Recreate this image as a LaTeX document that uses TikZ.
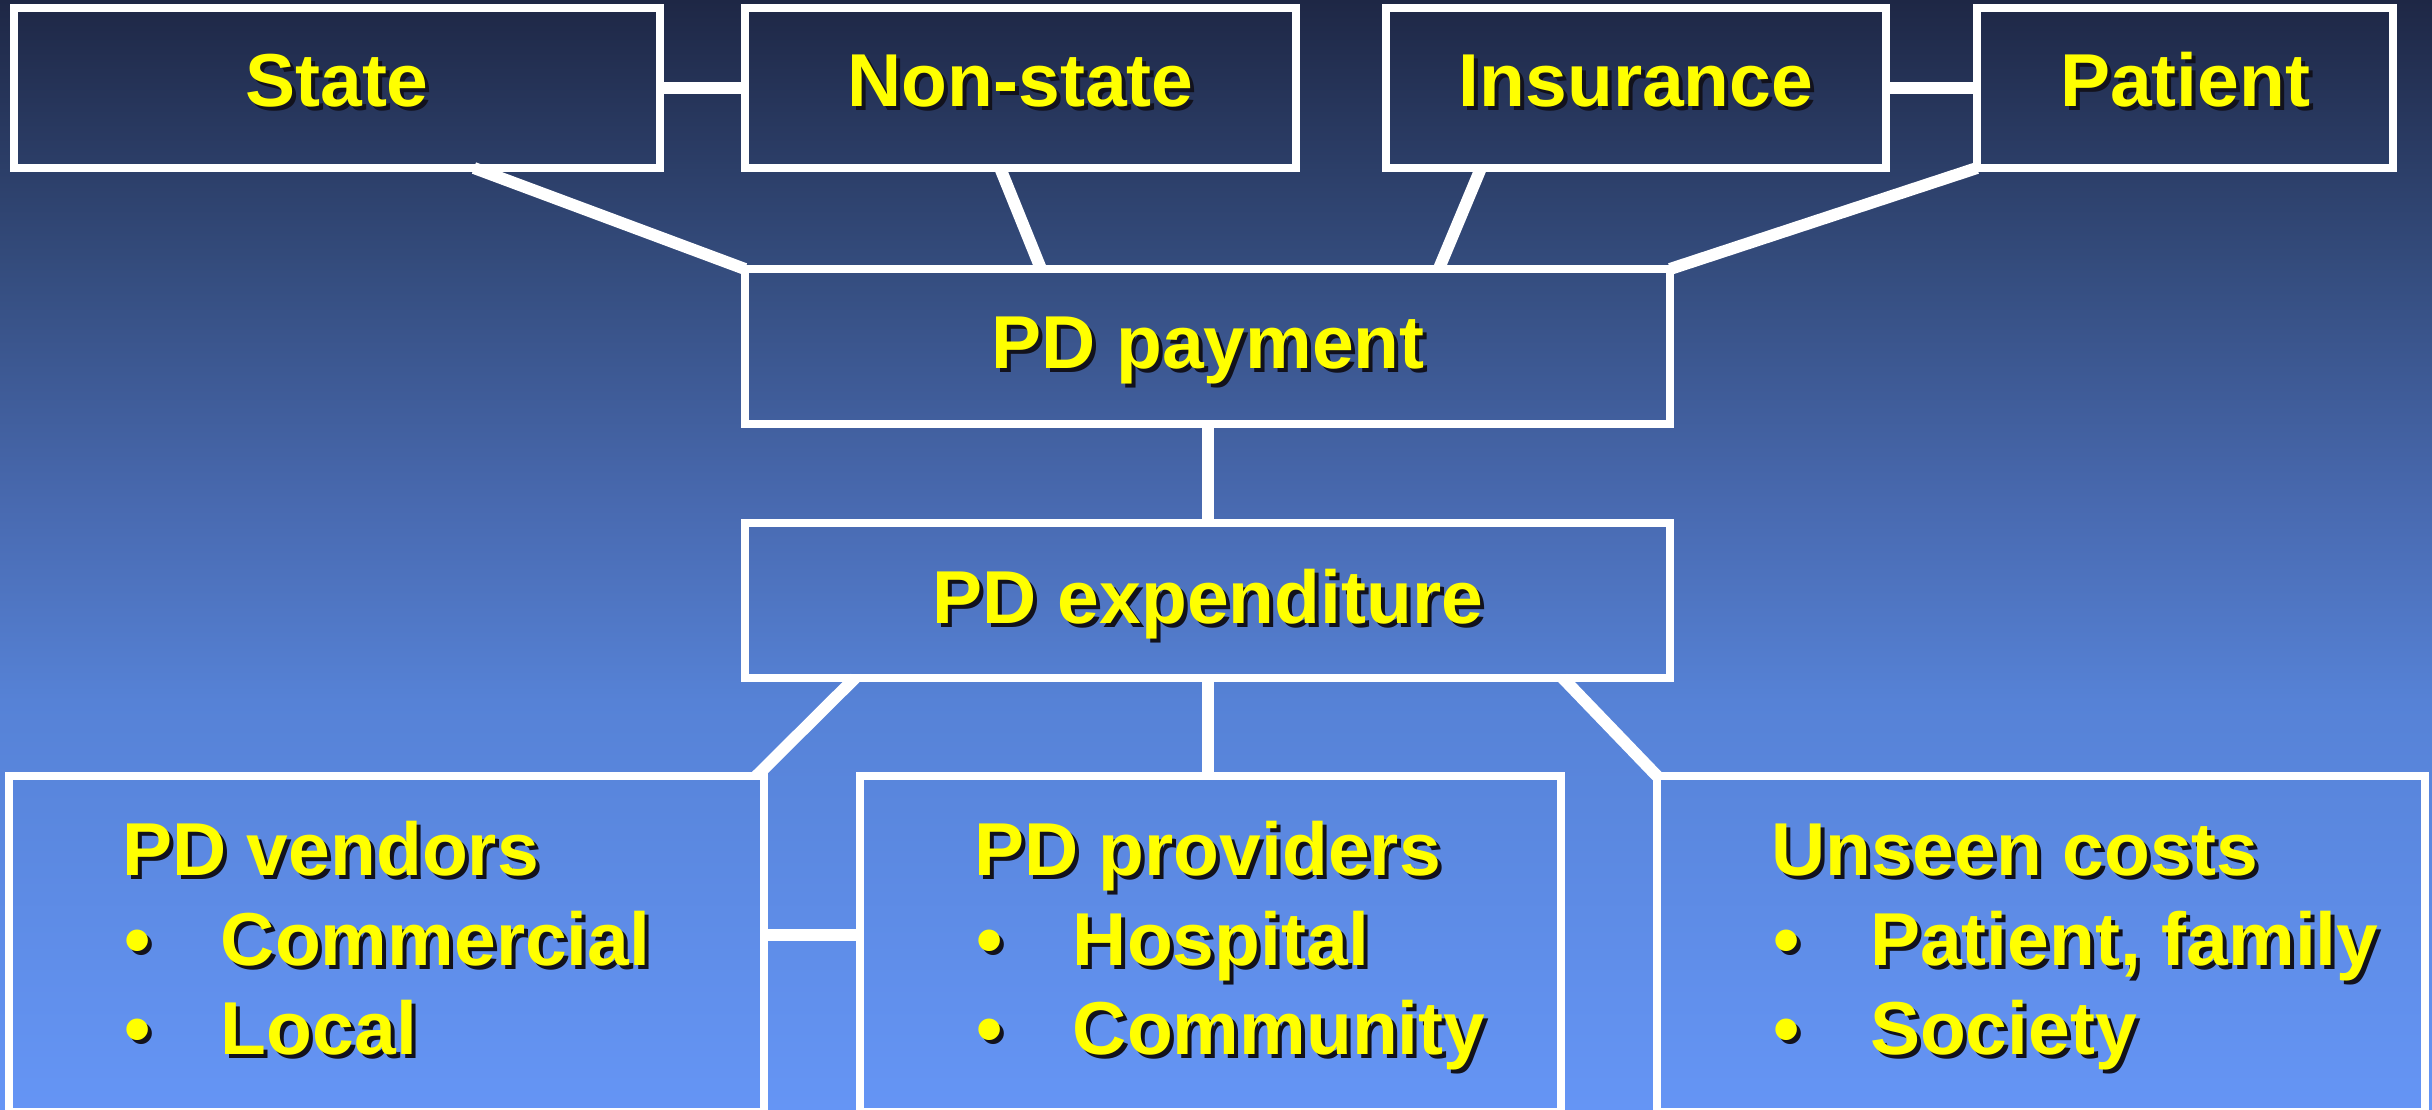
\documentclass[tikz,border=0pt]{standalone}
\usepackage{fontspec}
\setmainfont{Liberation Sans}
\usetikzlibrary{calc}

% background gradient stops, top to bottom
\definecolor{bgA}{RGB}{30,39,69}
\definecolor{bgB}{RGB}{52,76,125}
\definecolor{bgC}{RGB}{72,105,175}
\definecolor{bgD}{RGB}{86,130,214}
\definecolor{bgE}{RGB}{101,149,245}
\definecolor{txtyellow}{RGB}{255,255,0}
\definecolor{txtshadow}{RGB}{18,18,28}

% yellow text with a dark drop shadow
\newcommand{\shadowed}[1]{\makebox[0pt][l]{\hspace{4pt}\raisebox{-4pt}{\textcolor{txtshadow}{#1}}}\textcolor{txtyellow}{#1}}
\newcommand{\bulletitem}[1]{\shadowed{\makebox[97pt][l]{•}#1}}

\tikzset{
  box/.style={rectangle, draw=white, line width=8pt, inner sep=0pt, outer sep=0pt},
  link/.style={draw=white, line width=12pt, line cap=butt},
  lbl/.style={inner sep=0pt, outer sep=0pt, font=\fontsize{75}{90}\selectfont\bfseries},
}

\begin{document}
\begin{tikzpicture}[x=1pt,y=-1pt]
\useasboundingbox (0,0) rectangle (2432,1110);

% background
\shade[top color=bgA, bottom color=bgB] (0,0) rectangle (2432,266);
\shade[top color=bgB, bottom color=bgC] (0,265) rectangle (2432,501);
\shade[top color=bgC, bottom color=bgD] (0,500) rectangle (2432,701);
\shade[top color=bgD, bottom color=bgE] (0,700) rectangle (2432,1110);

% funding sources
\node[box, minimum width=646pt, minimum height=160pt] (state)     at (337,88)    {};
\node[box, minimum width=551pt, minimum height=160pt] (nonstate)  at (1020.5,88) {};
\node[box, minimum width=500pt, minimum height=160pt] (insurance) at (1636,88)   {};
\node[box, minimum width=416pt, minimum height=160pt] (patient)   at (2185,88)   {};

% payment and expenditure
\node[box, minimum width=925pt, minimum height=155pt] (payment)     at (1207.5,346.5) {};
\node[box, minimum width=925pt, minimum height=155pt] (expenditure) at (1207.5,600.5) {};

% where the money goes
\node[box, minimum width=755pt, minimum height=336pt] (vendors)   at (386.5,944)  {};
\node[box, minimum width=701pt, minimum height=336pt] (providers) at (1210.5,944) {};
\node[box, minimum width=768pt, minimum height=336pt] (unseen)    at (2041,944)   {};

% connectors
\draw[link] (state.east) -- (nonstate.west);
\draw[link] (insurance.east) -- (patient.west);
\draw[link] ($(state.south west)!0.712!(state.south east)$) -- (payment.north west);
\draw[link] ($(nonstate.south west)!0.463!(nonstate.south east)$) -- ($(payment.north west)!0.320!(payment.north east)$);
\draw[link] ($(insurance.south west)!0.19!(insurance.south east)$) -- ($(payment.north west)!0.75!(payment.north east)$);
\draw[link] (patient.south west) -- (payment.north east);
\draw[link] (payment.south) -- (expenditure.north);
\draw[link] (expenditure.south) -- (expenditure.south |- providers.north);
\draw[link] ($(expenditure.south west)!0.119!(expenditure.south east)$) -- ($(vendors.north west)!0.99!(vendors.north east)$);
\draw[link] ($(expenditure.south west)!0.884!(expenditure.south east)$) -- (unseen.north west);
\draw[link] ($(vendors.north east)+(0,159)$) -- ($(providers.north west)+(0,159)$);

% labels
\node[lbl, anchor=base] (stateL)     at (337,107)    {\shadowed{State}};
\node[lbl, anchor=base] (nonstateL)  at (1020.5,107) {\shadowed{Non-state}};
\node[lbl, anchor=base] (insuranceL) at (1636,107)   {\shadowed{Insurance}};
\node[lbl, anchor=base] (patientL)   at (2185,107)   {\shadowed{Patient}};
\node[lbl, anchor=base] (paymentL)     at (1208,368) {\shadowed{PD payment}};
\node[lbl, anchor=base] (expenditureL) at (1208,623) {\shadowed{PD expenditure}};

\node[lbl, anchor=base west] (vendorsL)  at (122,875)  {\shadowed{PD vendors}};
\node[lbl, anchor=base west] (vendorsA)  at (124,965)  {\bulletitem{Commercial}};
\node[lbl, anchor=base west] (vendorsB)  at (124,1054) {\bulletitem{Local}};

\node[lbl, anchor=base west] (providersL) at (974,875)  {\shadowed{PD providers}};
\node[lbl, anchor=base west] (providersA) at (976,965)  {\bulletitem{Hospital}};
\node[lbl, anchor=base west] (providersB) at (976,1054) {\bulletitem{Community}};

\node[lbl, anchor=base west] (unseenL) at (1771,875)  {\shadowed{Unseen costs}};
\node[lbl, anchor=base west] (unseenA) at (1773,965)  {\bulletitem{Patient, family}};
\node[lbl, anchor=base west] (unseenB) at (1773,1054) {\bulletitem{Society}};
\end{tikzpicture}
\end{document}
